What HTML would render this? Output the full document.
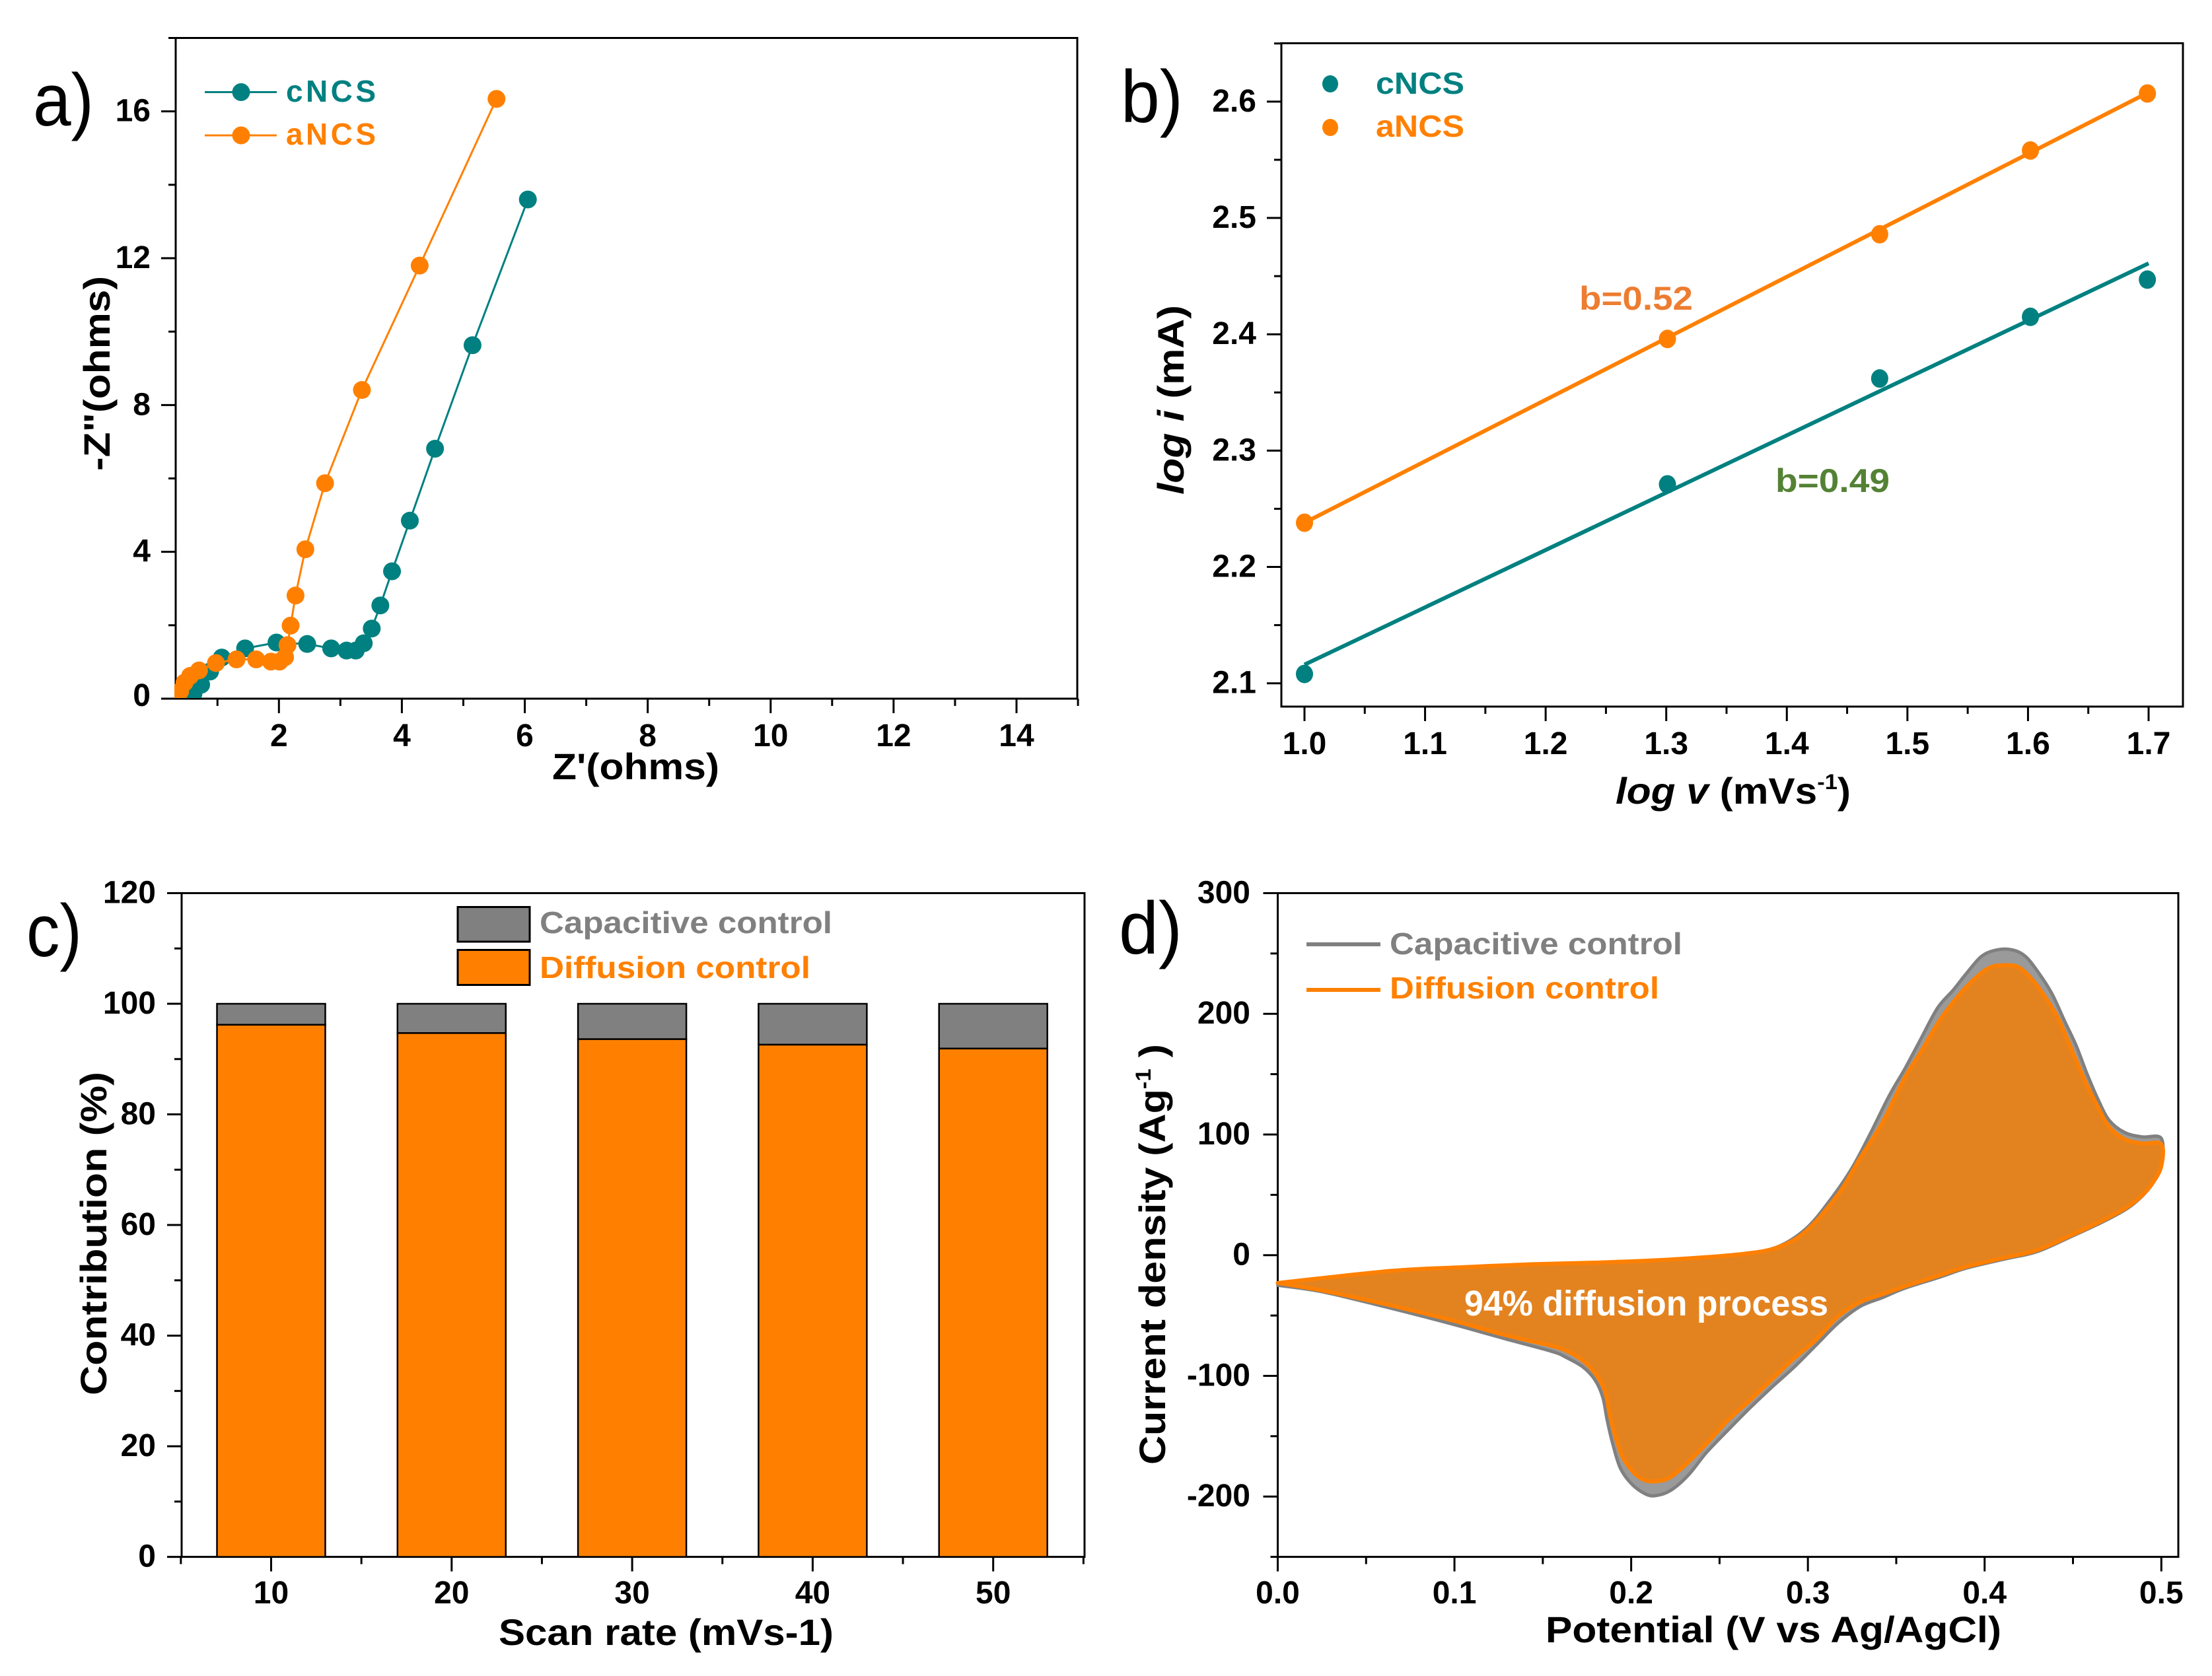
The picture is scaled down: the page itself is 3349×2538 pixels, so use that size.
<!DOCTYPE html>
<html lang="en">
<head>
<meta charset="utf-8">
<title>Electrochemical characterisation panels</title>
<style>
html,body{margin:0;padding:0;background:#fff;}
svg{display:block;font-family:"Liberation Sans",Arial,sans-serif;}
.tick{font-weight:bold;font-size:48px;fill:#000;}
.title{font-weight:bold;font-size:56px;fill:#000;}
.leg{font-weight:bold;font-size:46px;}
.panel{font-size:112px;fill:#000;}
</style>
</head>
<body>
<svg id="fig" xmlns="http://www.w3.org/2000/svg" width="3349" height="2538" viewBox="0 0 3349 2538">
  <rect width="3349" height="2538" fill="#fff"/>
  <defs>
    <clipPath id="clipA"><rect x="264" y="57" width="1368" height="1000"/></clipPath>
  </defs>
  <g id="a"></g>
  <g id="b"></g>
  <g id="c"></g>
  <g id="d"></g>

  <text class="panel" x="50" y="190" textLength="92" lengthAdjust="spacingAndGlyphs">a)</text>
  <text class="panel" x="1697" y="185" textLength="94" lengthAdjust="spacingAndGlyphs">b)</text>
  <text class="panel" x="40" y="1448" textLength="84" lengthAdjust="spacingAndGlyphs">c)</text>
  <text class="panel" x="1694" y="1444" textLength="96" lengthAdjust="spacingAndGlyphs">d)</text>

  <text class="title" x="836" y="1180" textLength="253" lengthAdjust="spacingAndGlyphs">Z'(ohms)</text>
  <text class="title" transform="translate(166,713) rotate(-90)" textLength="295" lengthAdjust="spacingAndGlyphs">-Z"(ohms)</text>

  <text class="title" x="2446" y="1217" textLength="356" lengthAdjust="spacingAndGlyphs"><tspan font-style="italic">log v</tspan> (mVs<tspan font-size="32" dy="-22">-1</tspan><tspan dy="22">)</tspan></text>
  <text class="title" transform="translate(1792,749) rotate(-90)" textLength="287" lengthAdjust="spacingAndGlyphs"><tspan font-style="italic">log i</tspan> (mA)</text>
  <text x="2391" y="469" font-weight="bold" font-size="50" fill="#ED7D31" textLength="172" lengthAdjust="spacingAndGlyphs">b=0.52</text>
  <text x="2688" y="745" font-weight="bold" font-size="50" fill="#548235" textLength="173" lengthAdjust="spacingAndGlyphs">b=0.49</text>

  <text class="title" x="755" y="2491" textLength="507" lengthAdjust="spacingAndGlyphs">Scan rate (mVs-1)</text>
  <text class="title" transform="translate(161,2113) rotate(-90)" textLength="490" lengthAdjust="spacingAndGlyphs">Contribution (%)</text>

  <text class="title" x="2340" y="2487" textLength="690" lengthAdjust="spacingAndGlyphs">Potential (V vs Ag/AgCl)</text>
  <text class="title" transform="translate(1764,2218) rotate(-90)" textLength="637" lengthAdjust="spacingAndGlyphs">Current density (Ag<tspan font-size="32" dy="-22">-1</tspan><tspan dy="22"> )</tspan></text>
</svg>

<script>
// ---------- Panel a data ----------
const aXTicks = [2, 4, 6, 8, 10, 12, 14];
const aXMinor = [1, 3, 5, 7, 9, 11, 13, 15];
const aYTicks = [0, 4, 8, 12, 16];
const aYMinor = [2, 6, 10, 14, 18];
const aCncsX = [0.58, 0.61, 0.735, 0.88, 1.07, 1.45, 1.96, 2.46, 2.85, 3.10, 3.25, 3.38, 3.51, 3.65, 3.84, 4.13, 4.54, 5.15, 6.05];
const aCncsY = [0.05, 0.14, 0.38, 0.74, 1.12, 1.37, 1.53, 1.49, 1.37, 1.31, 1.31, 1.51, 1.91, 2.54, 3.47, 4.85, 6.81, 9.63, 13.6];
const aAncsX = [0.34, 0.393, 0.465, 0.555, 0.70, 0.975, 1.31, 1.63, 1.87, 2.01, 2.10, 2.14, 2.19, 2.27, 2.43, 2.75, 3.35, 4.29, 5.54];
const aAncsY = [0.05, 0.20, 0.44, 0.62, 0.77, 0.97, 1.07, 1.07, 1.01, 1.01, 1.13, 1.46, 1.99, 2.81, 4.07, 5.87, 8.41, 11.8, 16.34];

// ---------- Panel b data ----------
const bXTicks = [1.0, 1.1, 1.2, 1.3, 1.4, 1.5, 1.6, 1.7];
const bXMinor = [1.05, 1.15, 1.25, 1.35, 1.45, 1.55, 1.65];
const bYTicks = [2.1, 2.2, 2.3, 2.4, 2.5, 2.6];
const bYMinor = [2.15, 2.25, 2.35, 2.45, 2.55, 2.65];
const bLogV = [1.0, 1.301, 1.477, 1.602, 1.699];
const bCncs = [2.108, 2.271, 2.362, 2.415, 2.447];
const bAncs = [2.238, 2.396, 2.486, 2.558, 2.607];
const bFitX = [1.0, 1.7];
const bCncsFit = [2.116, 2.461];
const bAncsFit = [2.238, 2.608];

// ---------- Panel c data ----------
const cRates = [10, 20, 30, 40, 50];
const cDiffusion = [96.2, 94.7, 93.6, 92.6, 91.9];
const cCapacitive = [3.8, 5.3, 6.4, 7.4, 8.1];
const cYTicks = [0, 20, 40, 60, 80, 100, 120];
const cYMinor = [10, 30, 50, 70, 90, 110];
const cXMinor = [5, 15, 25, 35, 45, 55];

// ---------- Panel d data ----------
const dXTicks = [0.0, 0.1, 0.2, 0.3, 0.4, 0.5];
const dXMinor = [0.05, 0.15, 0.25, 0.35, 0.45];
const dYTicks = [-200, -100, 0, 100, 200, 300];
const dYMinor = [-250, -150, -50, 50, 150, 250];
const dDiffusionV = [0, 0.064, 0.104, 0.144, 0.183, 0.223, 0.263, 0.283, 0.299, 0.3172, 0.3297, 0.3422, 0.3546, 0.3646, 0.3746, 0.3845, 0.3945, 0.4032, 0.4119, 0.4194, 0.4269, 0.4343, 0.4418, 0.4493, 0.4568, 0.4642, 0.4705, 0.4792, 0.4892, 0.5,
  0.5, 0.4954, 0.4892, 0.4805, 0.4667, 0.4481, 0.4294, 0.4107, 0.3895, 0.374, 0.3546, 0.3422, 0.3297, 0.3172, 0.3048, 0.2923, 0.2799, 0.2674, 0.255, 0.2425, 0.23, 0.2213, 0.2138, 0.2076, 0.2014, 0.1952, 0.1908, 0.1877, 0.1852, 0.1802, 0.174, 0.1653, 0.1553, 0.128, 0.096, 0.056, 0.024, 0];
const dDiffusion = [-23, -13, -10, -7.5, -6, -3.5, 1, 6.6, 20, 50.6, 80.7, 109.9, 146.4, 170.1, 194.7, 213.8, 229.3, 238.5, 240.3, 238.5, 228.4, 213.8, 195.6, 170.1, 144.5, 122.6, 106.2, 96.2, 92.6, 92,
  74, 60.6, 49.7, 39.6, 28.7, 15.9, 4, -2.3, -9.6, -17, -26, -32.4, -38.8, -50.6, -69.8, -85.3, -102.6, -120, -136.4, -156.4, -174.7, -184.7, -187.4, -186.5, -180.1, -167.4, -149.1, -130.9, -112.7, -99, -89, -80.7, -75.3, -66, -53, -39, -29, -23];
const dTotalV = [0, 0.064, 0.104, 0.144, 0.183, 0.223, 0.263, 0.283, 0.299, 0.3123, 0.3247, 0.3347, 0.3459, 0.3546, 0.3633, 0.3733, 0.382, 0.3895, 0.3982, 0.407, 0.4157, 0.4231, 0.4306, 0.4381, 0.4456, 0.4518, 0.458, 0.4642, 0.4705, 0.4792, 0.4892, 0.5,
  0.5, 0.4954, 0.4892, 0.4805, 0.4667, 0.4481, 0.4294, 0.4107, 0.3895, 0.374, 0.3546, 0.3422, 0.3297, 0.3172, 0.3048, 0.2923, 0.2799, 0.2674, 0.255, 0.2425, 0.2325, 0.2226, 0.2138, 0.2076, 0.2001, 0.1939, 0.1896, 0.1864, 0.184, 0.1796, 0.1727, 0.1628, 0.1553, 0.128, 0.096, 0.056, 0.024, 0];
const dTotal = [-25, -13, -10, -7.5, -6, -3.5, 1, 7, 22, 45.1, 71.6, 98.9, 131.8, 153.7, 177.4, 204.7, 219.3, 233, 247.6, 253, 253, 247.6, 233.9, 216.6, 192.9, 173.7, 150, 129, 111.7, 101.7, 98, 96.7,
  74, 60, 49, 38.5, 27.5, 14.8, 2.8, -3.4, -10.8, -18.5, -27.5, -35.1, -42.4, -56.1, -74.3, -92.6, -109, -126.3, -144.6, -163.7, -182, -194.7, -199.3, -197.5, -189.3, -176.5, -156.4, -136.4, -118, -103.5, -92.6, -84.4, -79.8, -69, -56, -41, -30, -25];

const TEAL = '#008080', ORANGE = '#FF8000', GRAY = '#808080';
const NS = 'http://www.w3.org/2000/svg';

function mk(parent, tag, name, attrs, text) {
  const el = document.createElementNS(NS, tag);
  
  
  for (const k in attrs) el.setAttribute(k, attrs[k]);
  if (text !== undefined) el.textContent = text;
  parent.appendChild(el);
  return el;
}
function linear(d0, d1, r0, r1) { return v => r0 + (v - d0) * (r1 - r0) / (d1 - d0); }

function axes(g, p, sx, sy, xT, xM, yT, yM, fx, fy, opts) {
  mk(g, 'rect', 'plot-frame', {x: p.l, y: p.t, width: p.r - p.l, height: p.b - p.t, fill: 'none', stroke: '#000', 'stroke-width': 3});
  xT.forEach(v => {
    mk(g, 'line', 'x-major-tick', {x1: sx(v), x2: sx(v), y1: p.b, y2: p.b + 22, stroke: '#000', 'stroke-width': 3});
    mk(g, 'text', 'x-tick-label', {class: 'tick', x: sx(v), y: opts.xBase, 'text-anchor': 'middle'}, fx(v));
  });
  xM.forEach(v => mk(g, 'line', 'x-minor-tick', {x1: sx(v), x2: sx(v), y1: p.b, y2: p.b + 11, stroke: '#000', 'stroke-width': 3}));
  yT.forEach(v => {
    mk(g, 'line', 'y-major-tick', {x1: p.l - 22, x2: p.l, y1: sy(v), y2: sy(v), stroke: '#000', 'stroke-width': 3});
    const off = (opts.zeroOff !== undefined && v === 0) ? opts.zeroOff : 15;
    mk(g, 'text', 'y-tick-label', {class: 'tick', x: opts.yRight, y: sy(v) + off, 'text-anchor': 'end'}, fy(v));
  });
  yM.forEach(v => mk(g, 'line', 'y-minor-tick', {x1: p.l - 11, x2: p.l, y1: sy(v), y2: sy(v), stroke: '#000', 'stroke-width': 3}));
}
function pts(xs, ys, sx, sy) { return xs.map((x, i) => sx(x).toFixed(1) + ',' + sy(ys[i]).toFixed(1)).join(' '); }
function smoothClosed(xs, ys, sx, sy) {
  const P = xs.map((x, i) => [sx(x), sy(ys[i])]);
  let d = 'M' + P[0][0].toFixed(1) + ' ' + P[0][1].toFixed(1);
  for (let i = 0; i < P.length - 1; i++) {
    const a = P[Math.max(i - 1, 0)], b = P[i], c = P[i + 1], e = P[Math.min(i + 2, P.length - 1)];
    const c1 = [b[0] + (c[0] - a[0]) / 6, b[1] + (c[1] - a[1]) / 6];
    const c2 = [c[0] - (e[0] - b[0]) / 6, c[1] - (e[1] - b[1]) / 6];
    d += 'C' + c1[0].toFixed(1) + ' ' + c1[1].toFixed(1) + ' ' + c2[0].toFixed(1) + ' ' + c2[1].toFixed(1) + ' ' + c[0].toFixed(1) + ' ' + c[1].toFixed(1);
  }
  return d + 'Z';
}

// ---------- Panel a ----------
(function () {
  const g = document.getElementById('a');
  const p = {l: 266, r: 1631, t: 57.5, b: 1058};
  const sx = linear(2, 14, 422.3, 1539);
  const sy = linear(0, 18, 1058, 57.5);
  axes(g, p, sx, sy, aXTicks, aXMinor, aYTicks, aYMinor, v => v, v => v, {xBase: 1130, yRight: 228, zeroOff: 11});
  const clip = mk(g, 'g', 'a-series-group', {'clip-path': 'url(#clipA)'});
  [[aCncsX, aCncsY, TEAL, 'cNCS'], [aAncsX, aAncsY, ORANGE, 'aNCS']].forEach(s => {
    mk(clip, 'polyline', 'a-line-' + s[3], {points: pts(s[0], s[1], sx, sy), fill: 'none', stroke: s[2], 'stroke-width': 3});
    s[0].forEach((x, i) => mk(clip, 'circle', 'a-point-' + s[3], {cx: sx(x), cy: sy(s[1][i]), r: 13.5, fill: s[2]}));
  });
  [[139.5, TEAL, 'cNCS', 154], [205, ORANGE, 'aNCS', 219]].forEach(s => {
    mk(g, 'line', 'a-legend-line-' + s[2], {x1: 310, x2: 419, y1: s[0], y2: s[0], stroke: s[1], 'stroke-width': 3});
    mk(g, 'circle', 'a-legend-marker-' + s[2], {cx: 365, cy: s[0], r: 13.5, fill: s[1]});
    mk(g, 'text', 'a-legend-label-' + s[2], {class: 'leg', x: 433, y: s[3], fill: s[1], textLength: 136, lengthAdjust: 'spacing'}, s[2]);
  });
})();

// ---------- Panel b ----------
(function () {
  const g = document.getElementById('b');
  const p = {l: 1940, r: 3305, t: 65.5, b: 1070};
  const sx = linear(1.0, 1.7, 1975, 3253);
  const sy = linear(2.1, 2.6, 1034.7, 153.9);
  axes(g, p, sx, sy, bXTicks, bXMinor, bYTicks, bYMinor, v => v.toFixed(1), v => v.toFixed(1), {xBase: 1142, yRight: 1902});
  [[bCncsFit, bCncs, TEAL, 'cNCS'], [bAncsFit, bAncs, ORANGE, 'aNCS']].forEach(s => {
    mk(g, 'polyline', 'b-fit-line-' + s[3], {points: pts(bFitX, s[0], sx, sy), fill: 'none', stroke: s[2], 'stroke-width': 6});
    bLogV.forEach((x, i) => mk(g, 'ellipse', 'b-point-' + s[3], {cx: sx(x), cy: sy(s[1][i]), rx: 13, ry: 14, fill: s[2]}));
  });
  [[127, TEAL, 'cNCS', 142], [193, ORANGE, 'aNCS', 207]].forEach(s => {
    mk(g, 'ellipse', 'b-legend-marker-' + s[2], {cx: 2014, cy: s[0], rx: 12, ry: 13, fill: s[1]});
    mk(g, 'text', 'b-legend-label-' + s[2], {class: 'leg', x: 2083, y: s[3], fill: s[1], textLength: 134, lengthAdjust: 'spacingAndGlyphs'}, s[2]);
  });
})();

// ---------- Panel c ----------
(function () {
  const g = document.getElementById('c');
  const p = {l: 275, r: 1642, t: 1352.5, b: 2357.6};
  const sx = linear(10, 50, 410.5, 1503.7);
  const sy = linear(0, 120, 2357.6, 1352.5);
  axes(g, p, sx, sy, cRates, cXMinor, cYTicks, cYMinor, v => v, v => v, {xBase: 2428, yRight: 236});
  cRates.forEach((r, i) => {
    const x0 = sx(r - 3), w = sx(r + 3) - sx(r - 3);
    const top = cDiffusion[i] + cCapacitive[i];
    mk(g, 'rect', 'bar-capacitive-' + r, {x: x0, y: sy(top), width: w, height: sy(cDiffusion[i]) - sy(top), fill: GRAY, stroke: '#000', 'stroke-width': 2.5});
    mk(g, 'rect', 'bar-diffusion-' + r, {x: x0, y: sy(cDiffusion[i]), width: w, height: sy(0) - sy(cDiffusion[i]), fill: ORANGE, stroke: '#000', 'stroke-width': 2.5});
  });
  mk(g, 'rect', 'c-legend-swatch-capacitive', {x: 693, y: 1373.5, width: 109, height: 52.5, fill: GRAY, stroke: '#000', 'stroke-width': 3});
  mk(g, 'rect', 'c-legend-swatch-diffusion', {x: 693, y: 1438.5, width: 109, height: 53, fill: ORANGE, stroke: '#000', 'stroke-width': 3});
  mk(g, 'text', 'c-legend-label-capacitive', {class: 'leg', x: 817, y: 1413, fill: GRAY, textLength: 443, lengthAdjust: 'spacingAndGlyphs'}, 'Capacitive control');
  mk(g, 'text', 'c-legend-label-diffusion', {class: 'leg', x: 817, y: 1481, fill: ORANGE, textLength: 410, lengthAdjust: 'spacingAndGlyphs'}, 'Diffusion control');
})();

// ---------- Panel d ----------
(function () {
  const g = document.getElementById('d');
  const p = {l: 1934.5, r: 3298, t: 1352.5, b: 2357.6};
  const sx = linear(0, 0.5, 1934.5, 3272.3);
  const sy = linear(-250, 300, 2357.6, 1352.5);
  axes(g, p, sx, sy, dXTicks, dXMinor, dYTicks, dYMinor, v => v.toFixed(1), v => v, {xBase: 2428, yRight: 1893});
  mk(g, 'path', 'd-capacitive-area', {d: smoothClosed(dTotalV, dTotal, sx, sy), fill: '#9A9A9A', stroke: GRAY, 'stroke-width': 5, 'stroke-linejoin': 'round'});
  mk(g, 'path', 'd-diffusion-area', {d: smoothClosed(dDiffusionV, dDiffusion, sx, sy), fill: '#E38320', stroke: ORANGE, 'stroke-width': 6, 'stroke-linejoin': 'round'});
  mk(g, 'text', 'd-annotation', {x: 2217, y: 1992, 'font-weight': 'bold', 'font-size': 54, fill: '#fff', textLength: 551, lengthAdjust: 'spacingAndGlyphs'}, '94% diffusion process');
  mk(g, 'line', 'd-legend-line-capacitive', {x1: 1978, x2: 2090, y1: 1430, y2: 1430, stroke: GRAY, 'stroke-width': 6});
  mk(g, 'line', 'd-legend-line-diffusion', {x1: 1978, x2: 2090, y1: 1499, y2: 1499, stroke: ORANGE, 'stroke-width': 6});
  mk(g, 'text', 'd-legend-label-capacitive', {class: 'leg', x: 2104, y: 1445, fill: GRAY, textLength: 443, lengthAdjust: 'spacingAndGlyphs'}, 'Capacitive control');
  mk(g, 'text', 'd-legend-label-diffusion', {class: 'leg', x: 2104, y: 1512, fill: ORANGE, textLength: 408, lengthAdjust: 'spacingAndGlyphs'}, 'Diffusion control');
})();
</script>
</body>
</html>
